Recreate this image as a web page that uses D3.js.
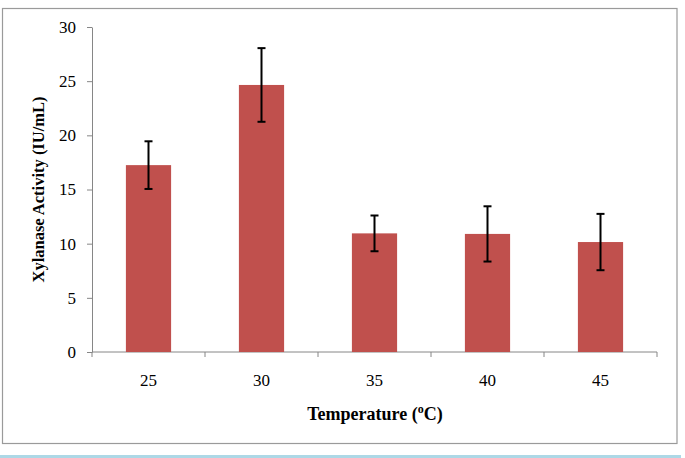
<!DOCTYPE html>
<html>
<head>
<meta charset="utf-8">
<script src="https://cdn.jsdelivr.net/npm/d3@7"></script>
<style>
  html, body { margin: 0; padding: 0; background: #fff; }
  svg { display: block; }
  text { font-family: "Liberation Serif", "Times New Roman", serif; fill: #000; }
</style>
</head>
<body>
<svg id="chart" width="685" height="458"></svg>
<script>
const temperatures = ["25", "30", "35", "40", "45"];
const activity = [17.25, 24.65, 10.95, 10.9, 10.15];
const activityErr = [2.2, 3.4, 1.65, 2.55, 2.6];
const yTicks = [0, 5, 10, 15, 20, 25, 30];

const svg = d3.select("#chart");
const margin = { top: 27, right: 28, bottom: 106, left: 92 };
const width = 685, height = 458;
const plotBottom = height - margin.bottom;

// outer frame + bottom band
svg.append("rect")
  .attr("x", 2.5).attr("y", 8.5)
  .attr("width", 674.5).attr("height", 435)
  .attr("fill", "#fff").attr("stroke", "#9a9a9a").attr("stroke-width", 1.2);
svg.append("rect")
  .attr("x", 0).attr("y", 455).attr("width", 681).attr("height", 3)
  .attr("fill", "#add8e6");

const x = d3.scaleBand().domain(temperatures).range([margin.left, 657]).paddingInner(0.6).paddingOuter(0.3);
const xEdge = d3.scaleLinear().domain([0, temperatures.length]).range([margin.left, 657]);
const y = d3.scaleLinear().domain([0, 30]).range([plotBottom, margin.top]);

// y axis
const yAxis = svg.append("g")
  .attr("transform", `translate(${margin.left},0)`)
  .call(d3.axisLeft(y).tickValues(yTicks).tickSize(5).tickSizeOuter(0).tickPadding(11));
yAxis.select(".domain").attr("stroke", "#868686");
yAxis.selectAll(".tick line").attr("stroke", "#868686");
yAxis.selectAll(".tick text")
  .style("font-size", "17px").style("fill", "#000")
  .style("font-family", "'Liberation Serif', serif");

// x axis (ticks between categories)
const xAxisG = svg.append("g").attr("transform", `translate(0,${plotBottom})`);
xAxisG.append("line")
  .attr("x1", margin.left).attr("x2", 657)
  .attr("stroke", "#868686");
xAxisG.selectAll("line.tk")
  .data(d3.range(temperatures.length + 1))
  .join("line").attr("class", "tk")
  .attr("x1", d => xEdge(d)).attr("x2", d => xEdge(d))
  .attr("y1", 0).attr("y2", 5)
  .attr("stroke", "#868686");
xAxisG.selectAll("text")
  .data(temperatures)
  .join("text")
  .attr("x", d => x(d) + x.bandwidth() / 2)
  .attr("y", 34)
  .attr("text-anchor", "middle")
  .style("font-size", "17px")
  .text(d => d);

// bars
svg.append("g").selectAll("rect")
  .data(temperatures)
  .join("rect")
  .attr("x", d => x(d))
  .attr("y", (d, i) => y(activity[i]))
  .attr("width", x.bandwidth())
  .attr("height", (d, i) => plotBottom - y(activity[i]))
  .attr("fill", "#c0504d");

// error bars
const eb = svg.append("g").attr("stroke", "#000").attr("stroke-width", 2);
temperatures.forEach((t, i) => {
  const cx = x(t) + x.bandwidth() / 2;
  const hi = y(activity[i] + activityErr[i]);
  const lo = y(activity[i] - activityErr[i]);
  eb.append("line").attr("x1", cx).attr("x2", cx).attr("y1", hi).attr("y2", lo);
  eb.append("line").attr("x1", cx - 4).attr("x2", cx + 4).attr("y1", hi).attr("y2", hi);
  eb.append("line").attr("x1", cx - 4).attr("x2", cx + 4).attr("y1", lo).attr("y2", lo);
});

// axis titles
const xt = svg.append("text")
  .attr("x", 375).attr("y", 420)
  .attr("text-anchor", "middle")
  .style("font-size", "18px").style("font-weight", "bold");
xt.append("tspan").text("Temperature (");
xt.append("tspan").attr("dy", -7).style("font-size", "12px").text("o");
xt.append("tspan").attr("dy", 7).text("C)");

svg.append("text")
  .attr("transform", `translate(44,${(margin.top + plotBottom) / 2}) rotate(-90)`)
  .attr("text-anchor", "middle")
  .style("font-size", "16.5px").style("font-weight", "bold")
  .text("Xylanase Activity (IU/mL)");
</script>
</body>
</html>
